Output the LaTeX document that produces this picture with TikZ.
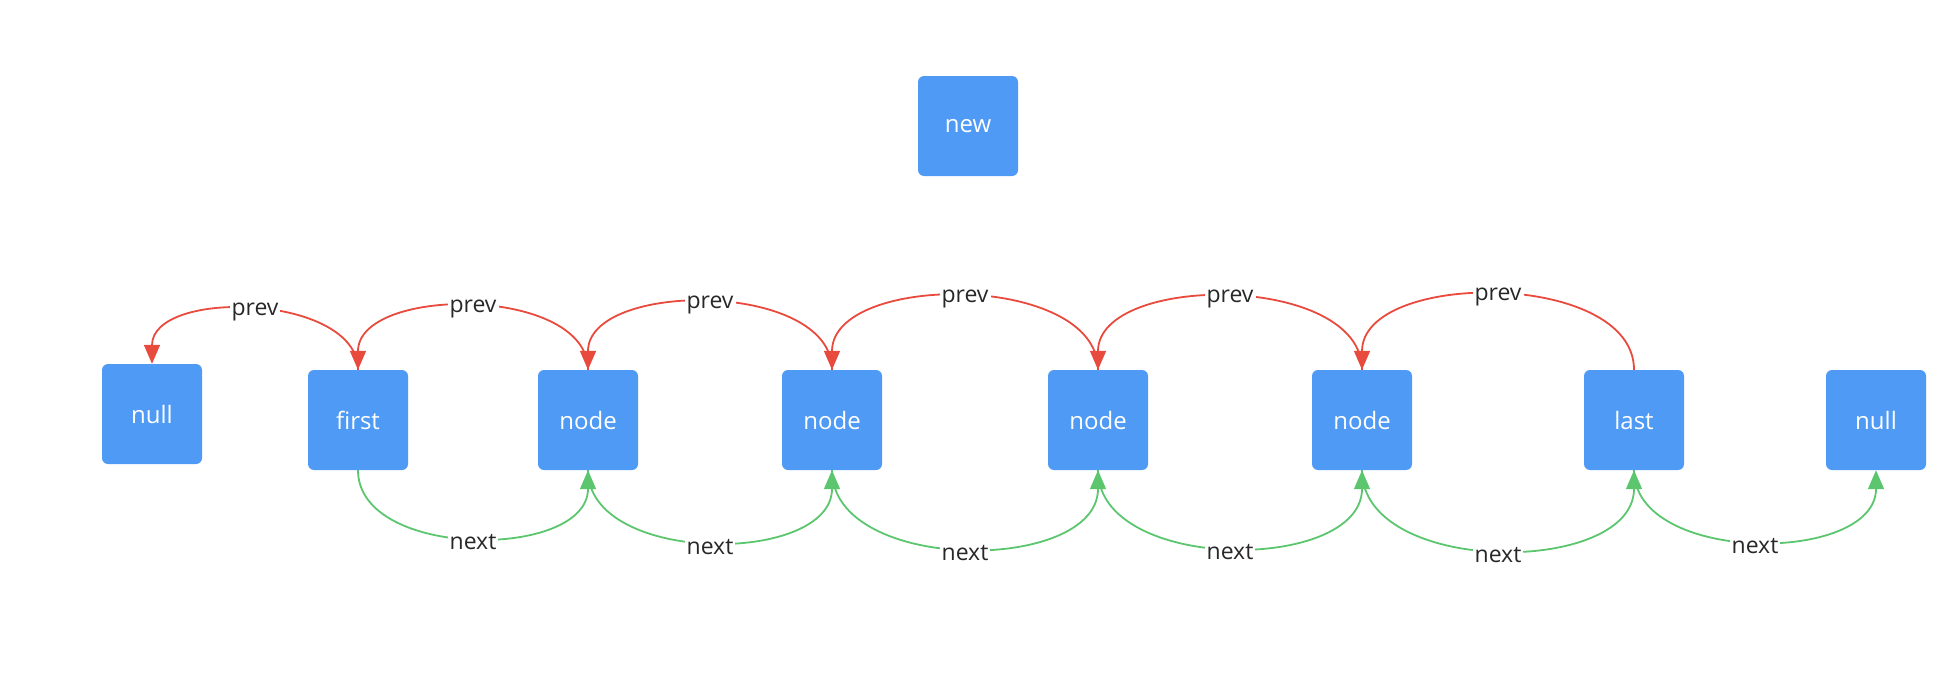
\documentclass[tikz,border=0pt]{standalone}
\usepackage{fontspec}
\setmainfont{Open Sans}
\usetikzlibrary{arrows.meta}
\definecolor{boxblue}{RGB}{78,154,245}
\definecolor{prevred}{RGB}{232,74,62}
\definecolor{nextgreen}{RGB}{92,198,110}
\definecolor{lbltext}{RGB}{40,40,40}
\tikzset{
  listbox/.style={fill=boxblue, rounded corners=6pt, minimum width=100pt, minimum height=100pt, text=white, font=\fontsize{24}{28}\selectfont, inner sep=0pt},
  prevline/.style={draw=prevred, line width=1.8pt, looseness=0.94, -{Triangle[length=19pt,width=16pt]}},
  nextline/.style={draw=nextgreen, line width=1.8pt, -{Triangle[length=19pt,width=16pt]}},
  lbl/.style={fill=white, text=lbltext, inner sep=2pt, font=\fontsize{23}{27}\selectfont},
  prevlbl/.style={lbl, yshift=-2pt},
  nextlbl/.style={lbl, yshift=-5pt}
}
\begin{document}
\begin{tikzpicture}[x=1pt,y=-1pt]
\useasboundingbox (0,0) rectangle (1950,672);
\node[listbox] (new) at (968,126) {new};
\node[listbox] (nullL) at (152,414) {null};
\node[listbox] (first) at (358,420) {first};
\node[listbox] (n1) at (588,420) {node};
\node[listbox] (n2) at (832,420) {node};
\node[listbox] (n3) at (1098,420) {node};
\node[listbox] (n4) at (1362,420) {node};
\node[listbox] (last) at (1634,420) {last};
\node[listbox] (nullR) at (1876,420) {null};
% prev
\draw[prevline] (first.north) to[out=90,in=90] node[prevlbl]{prev} (nullL.north);
\draw[prevline] (n1.north) to[out=90,in=90] node[prevlbl]{prev} (first.north);
\draw[prevline] (n2.north) to[out=90,in=90] node[prevlbl]{prev} (n1.north);
\draw[prevline] (n3.north) to[out=90,in=90] node[prevlbl]{prev} (n2.north);
\draw[prevline] (n4.north) to[out=90,in=90] node[prevlbl]{prev} (n3.north);
\draw[prevline] (last.north) to[out=90,in=90] node[prevlbl]{prev} (n4.north);
% next
\draw[nextline] (first.south) to[out=-90,in=-90] node[nextlbl]{next} (n1.south);
\draw[nextline] (n1.south) to[out=-90,in=-90] node[nextlbl]{next} (n2.south);
\draw[nextline] (n2.south) to[out=-90,in=-90] node[nextlbl]{next} (n3.south);
\draw[nextline] (n3.south) to[out=-90,in=-90] node[nextlbl]{next} (n4.south);
\draw[nextline] (n4.south) to[out=-90,in=-90] node[nextlbl]{next} (last.south);
\draw[nextline] (last.south) to[out=-90,in=-90] node[nextlbl]{next} (nullR.south);
\end{tikzpicture}
\end{document}
